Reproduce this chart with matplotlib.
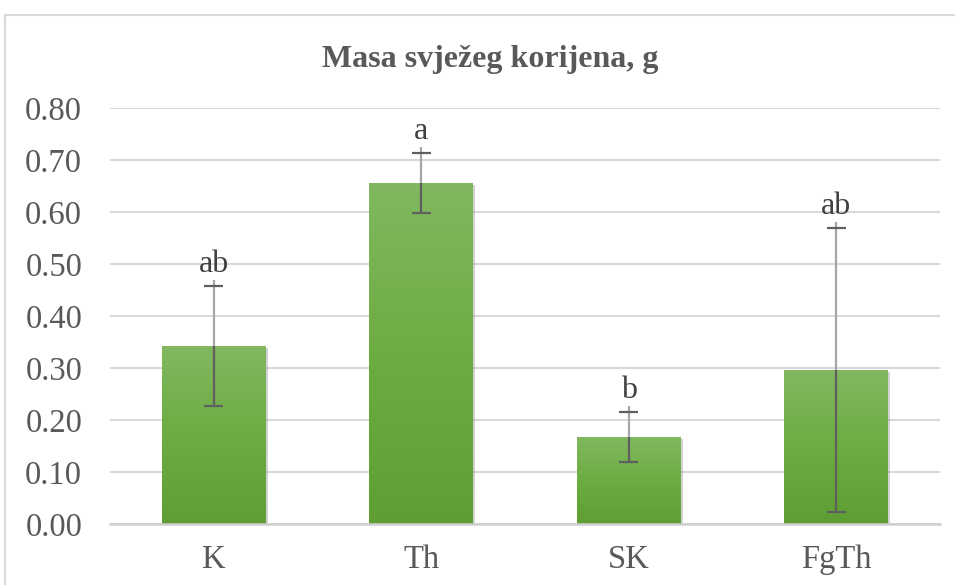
import numpy as np
import matplotlib.pyplot as plt
import matplotlib.patheffects as pe
from matplotlib.colors import LinearSegmentedColormap
from matplotlib.patches import Rectangle

plt.rcParams['font.family'] = ['Liberation Serif', 'DejaVu Serif']

# data
groups = ["K", "Th", "SK", "FgTh"]
means = [0.342, 0.656, 0.167, 0.296]
errs = [0.116, 0.057, 0.048, 0.273]
letters = ["ab", "a", "b", "ab"]

txt_col = "#595959"
grid_col = "#d9d9d9"

fig = plt.figure(figsize=(9.55, 5.85), dpi=100)
ax = fig.add_axes([110/955, 1-524/585, 830/955, 416/585])

# outer chart border (runs off right and bottom edges)
fig.patches.append(Rectangle((5/955, -0.1), 2.0, 1-15/585+0.1, transform=fig.transFigure,
                             fill=False, edgecolor=grid_col, linewidth=1.5))

x = np.arange(len(groups))
bars = ax.bar(x, means, width=0.5, color="#70ad47", zorder=2,
              path_effects=[pe.SimplePatchShadow(offset=(1.5, -1.5), shadow_rgbFace="#808080", alpha=0.35),
                            pe.Normal()])

# green vertical gradient inside each bar
cmap = LinearSegmentedColormap.from_list("g", ["#5e9e33", "#6cad41", "#81b860"])
grad = np.linspace(0, 1, 256).reshape(-1, 1)
for b in bars:
    im = ax.imshow(grad, cmap=cmap, origin="lower", aspect="auto", zorder=2.5,
                   extent=[b.get_x(), b.get_x() + b.get_width(), 0, b.get_height()])
    im.set_clip_path(b)

# error bars: light above the bar, dark over the bar
lo = [m - e for m, e in zip(means, errs)]
hi = [m + e for m, e in zip(means, errs)]
ax.vlines(x, means, [h + 0.012 for h in hi], color="#a6a6a6", linewidth=1.6, zorder=3)
ax.vlines(x, lo, means, color="#5f5f5f", linewidth=1.6, zorder=3)
ax.hlines(hi, x - 0.045, x + 0.045, color="#5f5f5f", linewidth=1.6, zorder=3)
ax.hlines(lo, x - 0.045, x + 0.045, color="#5f5f5f", linewidth=1.6, zorder=3)

for xi, h, lab in zip(x, hi, letters):
    ax.annotate(lab, (xi, h), xytext=(0, 5), textcoords="offset points",
                ha="center", va="bottom", fontsize=23, color="#404040")

ax.set_xlim(-0.5, len(groups) - 0.5)
ax.set_ylim(0, 0.8)
ax.set_yticks(np.arange(0, 0.81, 0.1))
ax.set_yticklabels([f"{v:.2f}" for v in np.arange(0, 0.81, 0.1)])
ax.set_xticks(x)
ax.set_xticklabels(groups)
ax.tick_params(axis="y", length=0, pad=20, labelsize=23.5, labelcolor=txt_col)
ax.tick_params(axis="x", length=0, pad=15, labelsize=23.5, labelcolor=txt_col)
ax.yaxis.grid(True, color=grid_col, linewidth=1.5, zorder=0)
ax.set_axisbelow(True)
for s in ["left", "right", "top"]:
    ax.spines[s].set_visible(False)
ax.spines["bottom"].set_color("#d0d0d0")
ax.spines["bottom"].set_linewidth(1.8)

fig.text(490/955, 1-60/585, "Masa svježeg korijena, g", ha="center", va="center",
         fontsize=23, fontweight="bold", color=txt_col)

fig.savefig("out.png", dpi=100)
